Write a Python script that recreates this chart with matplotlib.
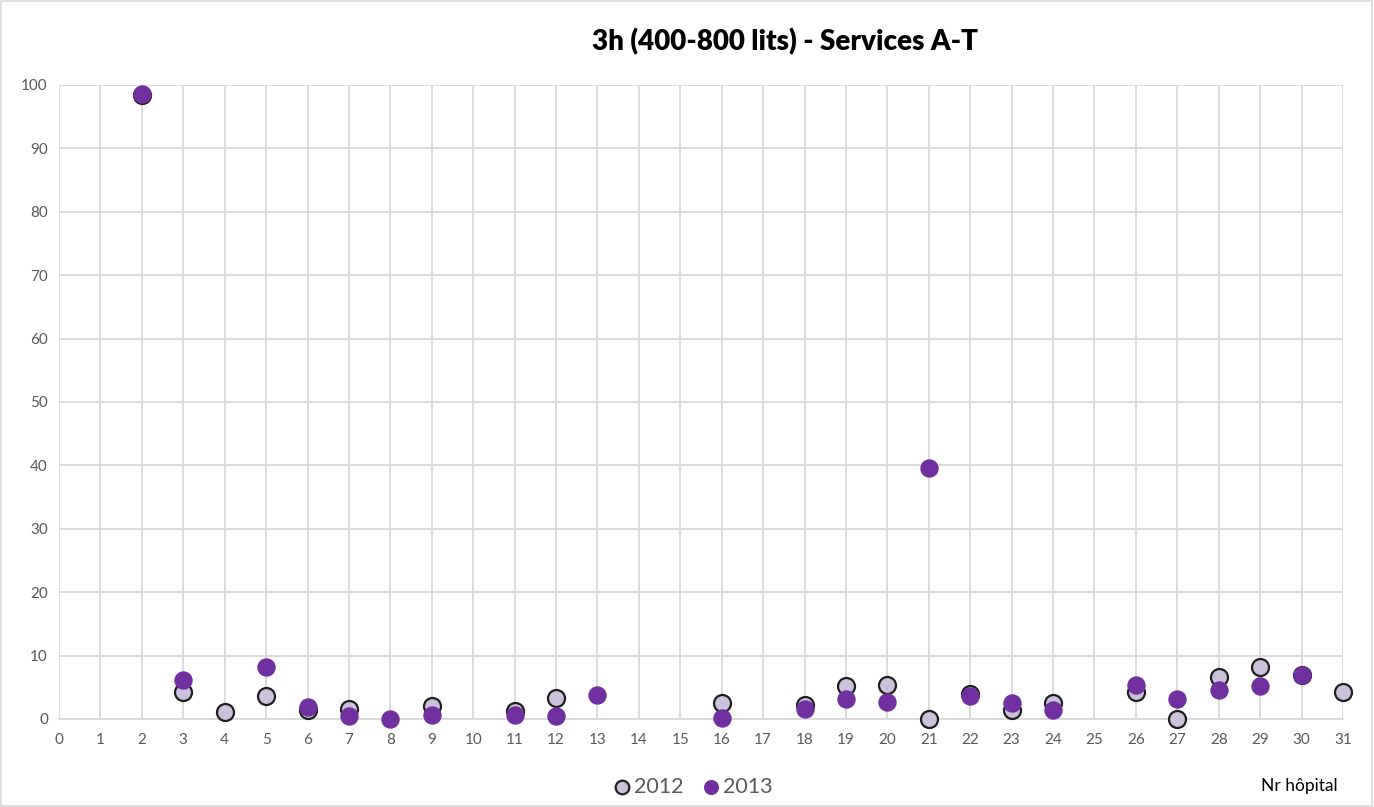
import numpy as np
import matplotlib
matplotlib.use("Agg")
import matplotlib.pyplot as plt
from matplotlib.patches import Rectangle

plt.rcParams['font.family'] = ['Lato', 'DejaVu Sans']

hospitals = [2, 3, 4, 5, 6, 7, 8, 9, 11, 12, 13, 16, 18, 19, 20, 21, 22, 23, 24, 26, 27, 28, 29, 30, 31]
values_2012 = [98.4, 4.2, 1.1, 3.6, 1.4, 1.6, np.nan, 2.1, 1.3, 3.3, np.nan, 2.6, 2.2, 5.2, 5.4, 0.0,
               4.0, 1.4, 2.5, 4.3, 0.0, 6.7, 8.2, 6.9, 4.2]
values_2013 = [98.6, 6.2, np.nan, 8.2, 1.9, 0.4, 0.0, 0.7, 0.7, 0.5, 3.8, 0.2, 1.6, 3.2, 2.7, 39.6,
               3.6, 2.5, 1.4, 5.4, 3.1, 4.5, 5.2, 7.0, np.nan]
x_ticks = list(range(0, 32))
y_ticks = list(range(0, 101, 10))

title = "3h (400-800 lits) - Services A-T"
x_label = "Nr hôpital"

fig = plt.figure(figsize=(13.74, 8.07), dpi=100)
ax = fig.add_axes([59 / 1374, 1 - 719 / 807, (1343 - 59) / 1374, (719 - 85) / 807])

grid_c = "#D9D9D9"
ax.set_xlim(0, 31)
ax.set_ylim(0, 100)
ax.set_xticks(x_ticks)
ax.set_yticks(y_ticks)
ax.grid(True, color=grid_c, linewidth=1.3)
ax.set_axisbelow(True)
for s in ("top", "right", "left"):
    ax.spines[s].set_visible(False)
ax.spines["bottom"].set_color(grid_c)
ax.spines["bottom"].set_linewidth(1.3)
ax.tick_params(axis="both", length=0, labelsize=11, colors="#595959")
ax.tick_params(axis="x", pad=10)
ax.tick_params(axis="y", pad=8)

ax.scatter(hospitals, values_2012, s=150, facecolor="#CCC1DA", edgecolor="#1F1F1F",
           linewidth=1.6, zorder=3, clip_on=False, label="2012")
ax.scatter(hospitals, values_2013, s=150, facecolor="#7030A0", edgecolor="#7030A0",
           linewidth=1.0, zorder=4, clip_on=False, label="2013")

fig.text(785 / 1374, 1 - 42 / 807, title, ha="center", va="center",
         fontsize=20, fontweight="heavy", color="#000000")
fig.text(1299 / 1374, 1 - 786 / 807, x_label, ha="center", va="center",
         fontsize=12.5, color="#000000")

leg = fig.legend(loc="center", bbox_to_anchor=(693 / 1374, 1 - 787 / 807), ncol=2,
                 frameon=False, fontsize=15.5, handlelength=0.8, handletextpad=0.15,
                 columnspacing=0.9, markerscale=0.8, labelcolor="#595959")

fig.add_artist(Rectangle((0.0005, 0.001), 0.998, 0.998, transform=fig.transFigure,
                         fill=False, edgecolor="#D9D9D9", linewidth=1.2))

fig.savefig("out.png", dpi=100)
